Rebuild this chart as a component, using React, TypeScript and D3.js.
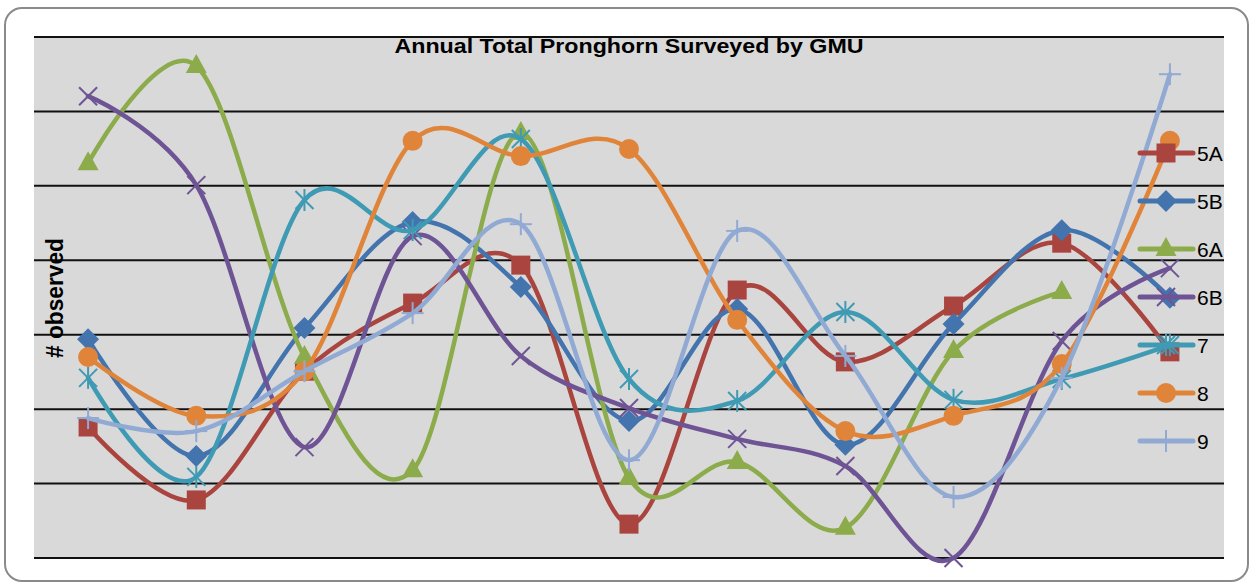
import React from 'react';
import * as d3 from 'd3';

const categories = ['1', '2', '3', '4', '5', '6', '7', '8', '9', '10', '11'];
const seriesNames = ['5A', '5B', '6A', '6B', '7', '8', '9'];
const s5A = [35.2, 15.6, 50.2, 68.5, 78.7, 9.1, 72.0, 52.7, 67.7, 84.6, 55.4];
const s5B = [58.8, 27.4, 61.8, 90.3, 72.8, 36.8, 66.9, 30.4, 62.9, 88.1, 69.9];
const s6A = [106.1, 132.2, 54.0, 23.6, 114.2, 21.5, 25.8, 8.1, 55.6, 71.5, null];
const s6B = [124.1, 100.2, 29.8, 86.5, 54.3, 40.3, 32.0, 24.7, 0.0, 58.3, 77.9];
const s7 = [48.4, 21.8, 96.2, 88.1, 112.6, 48.1, 42.2, 66.1, 42.5, 48.1, 57.2];
const s8 = [54.0, 38.2, 50.2, 112.1, 108.0, 109.9, 64.0, 34.1, 38.2, 52.1, 112.1];
const s9 = [37.6, 34.1, 50.2, 65.8, 89.7, 26.3, 87.9, 54.3, 16.4, 48.4, 130.0];
const yTicks = [0, 20, 40, 60, 80, 100, 120, 140];

const seriesValues = [s5A, s5B, s6A, s6B, s7, s8, s9];
const colors = ['#A9443F', '#4374AE', '#8CAB4B', '#6E5494', '#3F9AB4', '#E0843A', '#91AAD4'];
const markers = ['square', 'diamond', 'triangle', 'x', 'star', 'circle', 'plus'];

function Marker({ type, x, y, color }: { type: string; x: number; y: number; color: string }) {
  switch (type) {
    case 'square':
      return <rect x={x - 9.5} y={y - 9.5} width={19} height={19} fill={color} />;
    case 'diamond':
      return <path d={`M${x},${y - 11}L${x + 11},${y}L${x},${y + 11}L${x - 11},${y}Z`} fill={color} />;
    case 'triangle':
      return <path d={`M${x},${y - 12}L${x + 10.5},${y + 7}L${x - 10.5},${y + 7}Z`} fill={color} />;
    case 'circle':
      return <circle cx={x} cy={y} r={10} fill={color} />;
    case 'x':
      return (
        <g stroke={color} strokeWidth={2}>
          <line x1={x - 9} y1={y - 9} x2={x + 9} y2={y + 9} />
          <line x1={x - 9} y1={y + 9} x2={x + 9} y2={y - 9} />
        </g>
      );
    case 'star':
      return (
        <g stroke={color} strokeWidth={2}>
          <line x1={x - 9} y1={y - 9} x2={x + 9} y2={y + 9} />
          <line x1={x - 9} y1={y + 9} x2={x + 9} y2={y - 9} />
          <line x1={x} y1={y - 11} x2={x} y2={y + 11} />
        </g>
      );
    case 'plus':
      return (
        <g stroke={color} strokeWidth={2}>
          <line x1={x - 11} y1={y} x2={x + 11} y2={y} />
          <line x1={x} y1={y - 11} x2={x} y2={y + 11} />
        </g>
      );
    default:
      return null;
  }
}

export default function App() {
  const W = 1250;
  const H = 582;
  const left = 34, right = 1224, top = 37, bottom = 558;
  const x = d3.scaleBand<string>().domain(categories).range([left, right]);
  const cx = (c: string) => (x(c) as number) + x.bandwidth() / 2;
  const y = d3.scaleLinear().domain([0, 140]).range([bottom, top]);

  const line = d3
    .line<{ c: string; v: number }>()
    .x((d) => cx(d.c))
    .y((d) => y(d.v))
    .curve(d3.curveCatmullRom.alpha(0));

  const font = "'Liberation Sans', Arial, sans-serif";

  return (
    <svg width={W} height={H} style={{ position: 'absolute', left: 0, top: 0 }}>
      <rect x={0} y={0} width={W} height={H} fill="#fff" />
      <rect x={5} y={8} width={1243} height={573} rx={17} ry={17} fill="#fff" stroke="#8a8a8a" strokeWidth={2} />
      <rect x={left} y={top} width={right - left} height={bottom - top} fill="#D9D9D9" />
      {yTicks.map((t) => (
        <line key={t} x1={left} x2={right} y1={y(t)} y2={y(t)} stroke="#111" strokeWidth={2} />
      ))}
      <text
        x={(left + right) / 2}
        y={53}
        textAnchor="middle"
        fontFamily={font}
        fontWeight="bold"
        fontSize={21}
        textLength={469}
        lengthAdjust="spacingAndGlyphs"
      >
        Annual Total Pronghorn Surveyed by GMU
      </text>
      <text
        transform={`translate(63,298) rotate(-90)`}
        textAnchor="middle"
        fontFamily={font}
        fontWeight="bold"
        fontSize={24}
        textLength={120}
        lengthAdjust="spacingAndGlyphs"
      >
        # observed
      </text>
      {seriesValues.map((vals, i) => {
        const pts = vals
          .map((v, j) => ({ c: categories[j], v: v as number, ok: v !== null }))
          .filter((d) => d.ok);
        return (
          <g key={seriesNames[i]}>
            <path d={line(pts) || ''} fill="none" stroke={colors[i]} strokeWidth={4.5} strokeLinejoin="round" strokeLinecap="round" />
            {pts.map((p) => (
              <Marker key={p.c} type={markers[i]} x={cx(p.c)} y={y(p.v)} color={colors[i]} />
            ))}
          </g>
        );
      })}
      {seriesNames.map((n, i) => {
        const ly = 153 + i * 48;
        return (
          <g key={n}>
            <line x1={1140} x2={1193} y1={ly} y2={ly} stroke={colors[i]} strokeWidth={5} strokeLinecap="round" />
            <Marker type={markers[i]} x={1166} y={ly} color={colors[i]} />
            <text x={1197} y={ly} dy="0.36em" fontFamily={font} fontSize={21} fill="#000">
              {n}
            </text>
          </g>
        );
      })}
    </svg>
  );
}
